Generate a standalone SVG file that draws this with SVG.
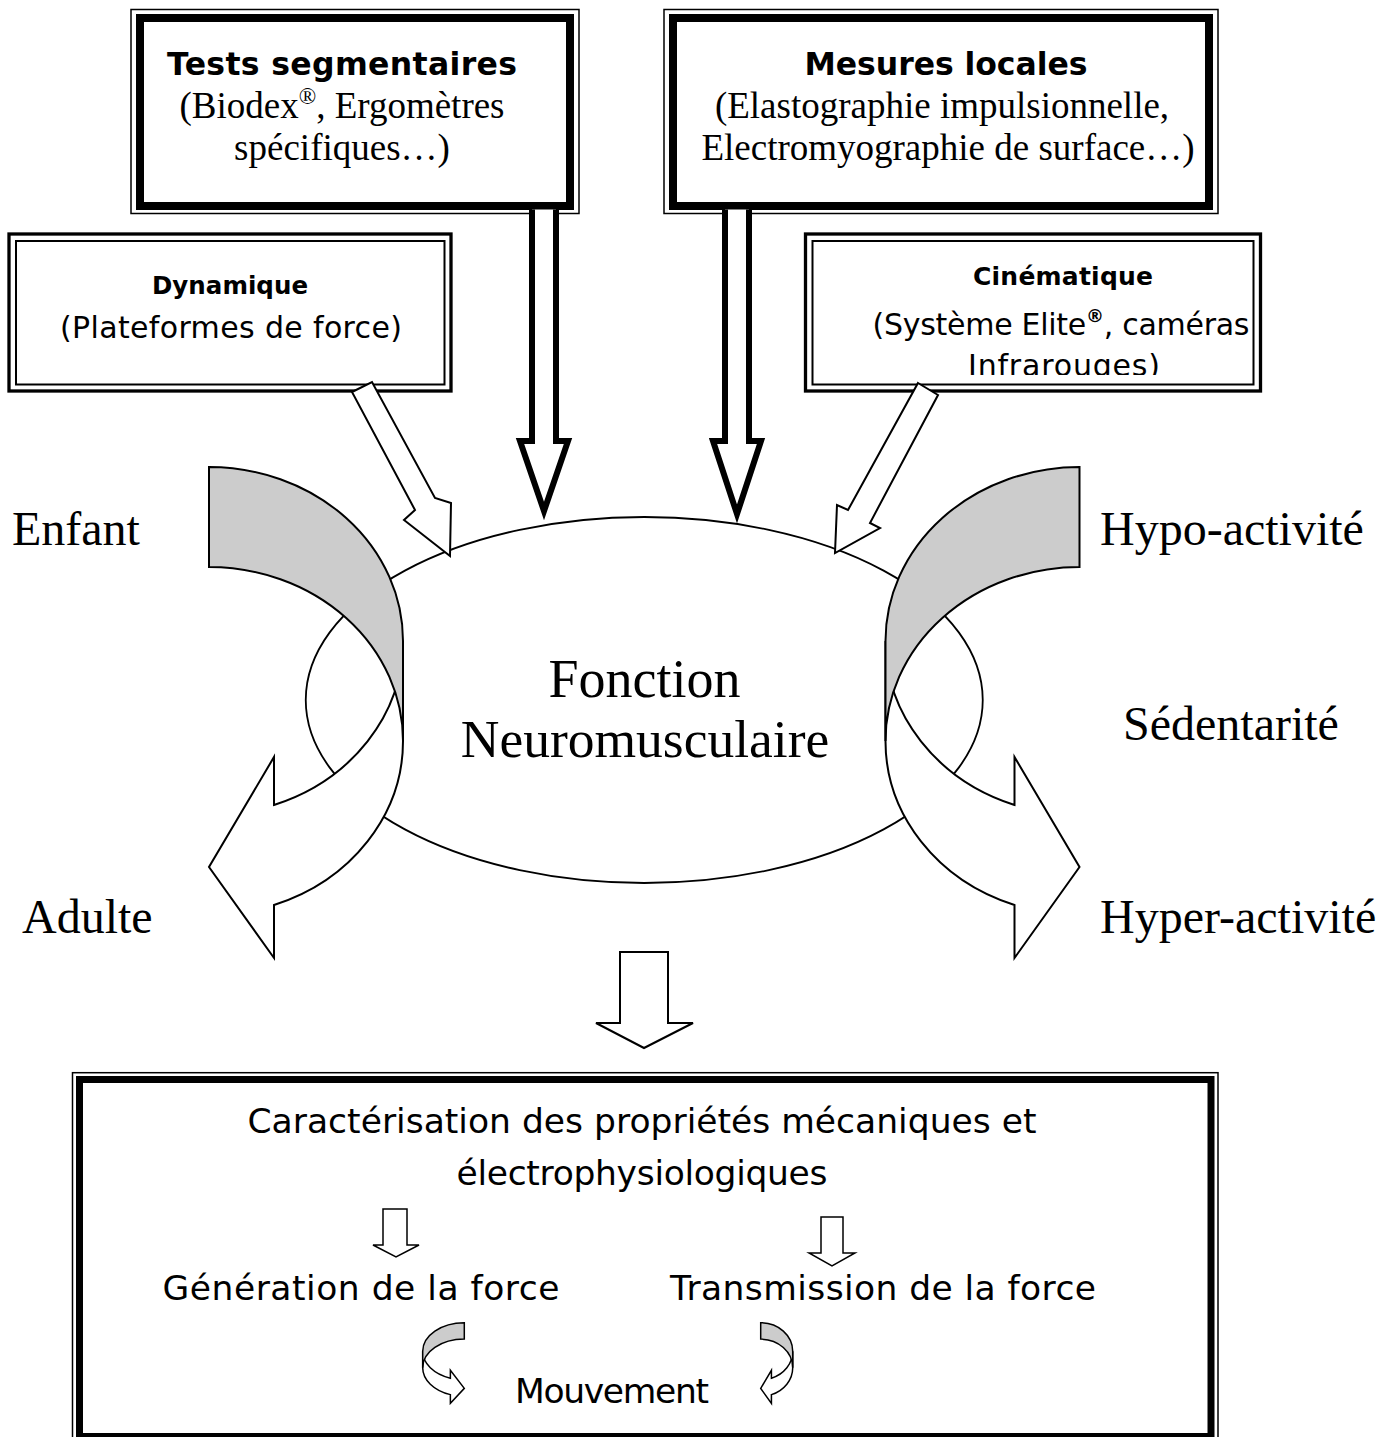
<svg xmlns="http://www.w3.org/2000/svg" xmlns:xlink="http://www.w3.org/1999/xlink" width="1395" height="1437" viewBox="0 0 1395 1437">
<style>
.comic{font-family:"Comic Sans MS","DejaVu Sans",sans-serif;fill:#000}
.cb{font-weight:bold}
.times{font-family:"Liberation Serif","Times New Roman",serif;fill:#000}
.ln{stroke:#000;fill:#fff}
.front{fill:#fff;stroke:#000}
.back{fill:#cccccc;stroke:#000}
</style>
<defs>
<g id="curv">
<path class="front" vector-effect="non-scaling-stroke" d="M194,174 A194,174 0 0 1 65,338 L65,290 L0,400 L65,491 L65,438 A194,174 0 0 0 194,274 Z"/>
<path class="back" vector-effect="non-scaling-stroke" d="M0,0 A194,174 0 0 1 194,174 L194,274 A194,174 0 0 0 0,100 Z"/>
</g>
<clipPath id="clipD"><rect x="805" y="234" width="456" height="141"/></clipPath>
</defs>
<rect width="1395" height="1437" fill="#fff"/>

<g id="node-fonction">
<ellipse cx="644.25" cy="700" rx="338.5" ry="183" fill="#fff" stroke="#000" stroke-width="1.8"/>
<text class="times" x="644.5" y="697" font-size="54" text-anchor="middle">Fonction</text>
<text class="times" x="645" y="757" font-size="53.5" text-anchor="middle">Neuromusculaire</text>
</g>

<g id="box-tests">
<rect x="131" y="9.5" width="448" height="204" fill="#fff" stroke="#000" stroke-width="1.5"/>
<rect x="140" y="18" width="430" height="188" fill="none" stroke="#000" stroke-width="8"/>
<text class="comic cb" x="342" y="75" font-size="31.5" text-anchor="middle" textLength="350">Tests segmentaires</text>
<text class="times" x="342" y="118" font-size="37" text-anchor="middle">(Biodex<tspan font-size="23" dy="-14">®</tspan><tspan dy="14">, Ergomètres</tspan></text>
<text class="times" x="342" y="160" font-size="37" text-anchor="middle">spécifiques…)</text>
</g>

<g id="box-mesures">
<rect x="664" y="9.5" width="554" height="204" fill="#fff" stroke="#000" stroke-width="1.5"/>
<rect x="673" y="18" width="536" height="188" fill="none" stroke="#000" stroke-width="8"/>
<text class="comic cb" x="946" y="75" font-size="31.5" text-anchor="middle" textLength="283">Mesures locales</text>
<text class="times" x="942" y="118" font-size="37" text-anchor="middle">(Elastographie impulsionnelle,</text>
<text class="times" x="948" y="160" font-size="37" text-anchor="middle">Electromyographie de surface…)</text>
</g>

<g id="box-dynamique">
<rect x="9" y="234" width="442" height="157" fill="#fff" stroke="#000" stroke-width="3.3"/>
<rect x="16" y="241" width="428.5" height="143.5" fill="none" stroke="#000" stroke-width="2"/>
<text class="comic cb" x="230" y="294" font-size="24.5" text-anchor="middle" textLength="156">Dynamique</text>
<text class="comic" x="231" y="338" font-size="30" text-anchor="middle" textLength="342">(Plateformes de force)</text>
</g>

<g id="box-cinematique">
<rect x="805.5" y="234" width="455" height="157" fill="#fff" stroke="#000" stroke-width="3.3"/>
<rect x="812.5" y="241" width="441" height="143.5" fill="none" stroke="#000" stroke-width="2"/>
<text class="comic cb" x="1063" y="285" font-size="25" text-anchor="middle" textLength="180">Cinématique</text>
<text class="comic" x="1061" y="335" font-size="30" text-anchor="middle" textLength="377">(Système Elite<tspan class="cb" font-size="18" dy="-13">®</tspan><tspan dy="13">, caméras</tspan></text>
<text class="comic" x="1064" y="376" font-size="30" text-anchor="middle" textLength="192" clip-path="url(#clipD)">Infrarouges)</text>
</g>

<g id="labels">
<text class="times" x="12" y="545" font-size="48">Enfant</text>
<text class="times" x="22" y="933" font-size="48">Adulte</text>
<text class="times" x="1100" y="545" font-size="48">Hypo-activité</text>
<text class="times" x="1123" y="740" font-size="48">Sédentarité</text>
<text class="times" x="1100" y="933" font-size="48">Hyper-activité</text>
</g>

<g id="box-caracterisation">
<rect x="72.5" y="1072.7" width="1145.5" height="372" fill="#fff" stroke="#000" stroke-width="1.5"/>
<rect x="79.5" y="1079.5" width="1131.5" height="357" fill="none" stroke="#000" stroke-width="7"/>
<text class="comic" x="642" y="1133" font-size="34.5" text-anchor="middle" textLength="789">Caractérisation des propriétés mécaniques et</text>
<text class="comic" x="642" y="1185" font-size="34.5" text-anchor="middle" textLength="371">électrophysiologiques</text>
<text class="comic" x="361" y="1300" font-size="34.5" text-anchor="middle" textLength="397">Génération de la force</text>
<text class="comic" x="883" y="1300" font-size="34.5" text-anchor="middle" textLength="426">Transmission de la force</text>
<text class="comic" x="612" y="1403" font-size="34.5" text-anchor="middle" textLength="194">Mouvement</text>
</g>

<g id="connectors">
<use xlink:href="#curv" href="#curv" transform="translate(209,467)" stroke-width="2"/>
<use xlink:href="#curv" href="#curv" transform="matrix(-1,0,0,1,1079.5,467)" stroke-width="2"/>
<path class="ln" stroke-width="2" d="M352,392 L372,382 L435,498 L451,503 L450,556 L404,520 L415,510 Z"/>
<path class="ln" stroke-width="2" d="M918,383 L938,395 L870,523 L880,528 L835,553 L837,505 L848,510 Z"/>
<path class="ln" stroke-width="6" d="M532,209.5 L532,441 L520,441 L544,511 L568,441 L556,441 L556,209.5"/>
<path class="ln" stroke-width="6" d="M725,209.5 L725,441 L713,441 L737,514 L761,441 L749,441 L749,209.5"/>
<path class="ln" stroke-width="2" d="M620,952 L668,952 L668,1023 L693,1023 L644,1048 L596,1023 L620,1023 Z"/>
<path class="ln" stroke-width="1.5" d="M383,1209 L407,1209 L407,1245 L419,1245 L396,1257 L373,1245 L383,1245 Z"/>
<path class="ln" stroke-width="1.5" d="M821,1217 L843,1217 L843,1253 L855,1253 L832,1266 L809,1253 L821,1253 Z"/>
<use xlink:href="#curv" href="#curv" transform="matrix(-0.2144,0,0,0.1642,464.3,1322.7)" stroke-width="1.5"/>
<use xlink:href="#curv" href="#curv" transform="matrix(0.165,0,0,0.1642,760.7,1322.7)" stroke-width="1.5"/>
</g>
</svg>
